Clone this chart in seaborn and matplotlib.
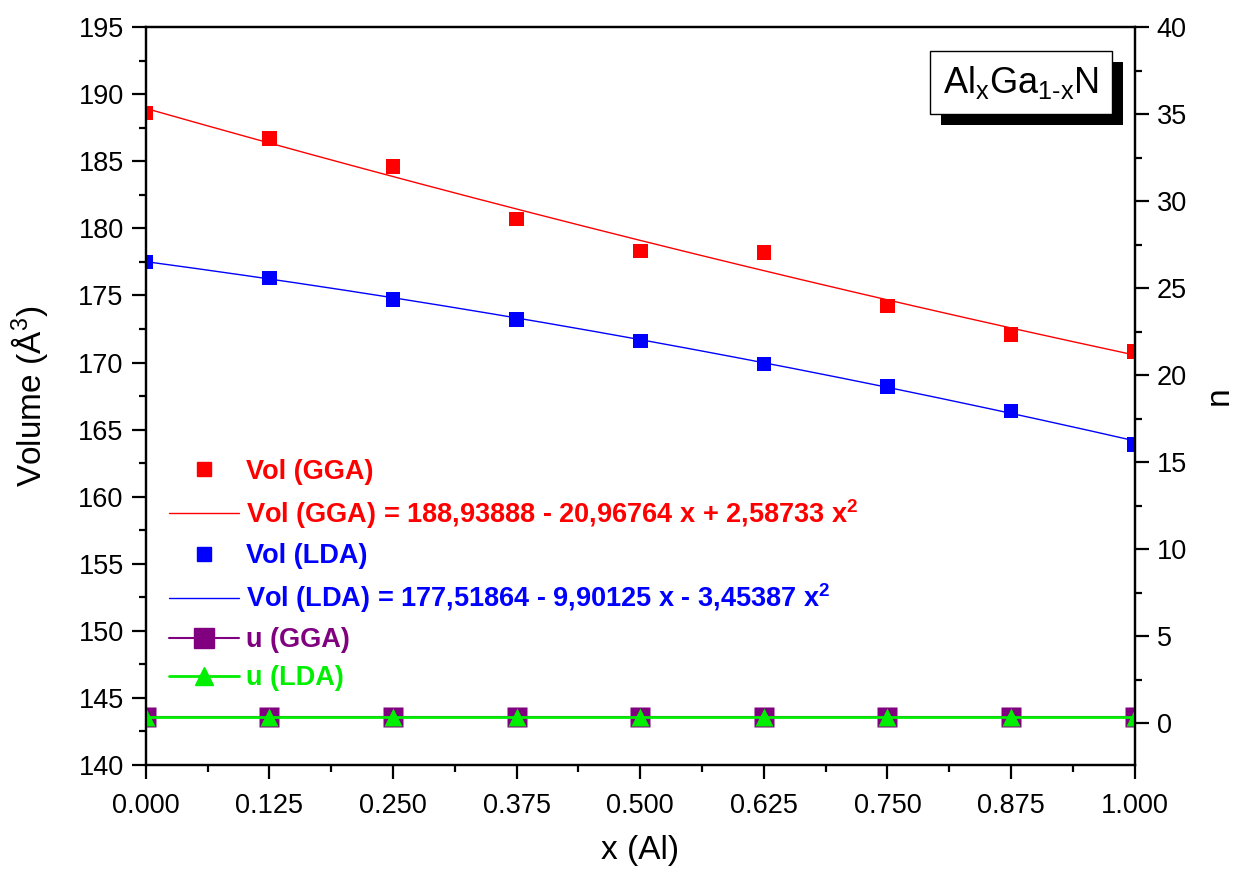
import numpy as np
import pandas as pd
import seaborn as sns
import matplotlib.pyplot as plt
from matplotlib.ticker import MultipleLocator
from matplotlib.lines import Line2D
import matplotlib.patheffects as pe

# datos
x_al = [0.0, 0.125, 0.25, 0.375, 0.5, 0.625, 0.75, 0.875, 1.0]
vol_gga = [188.6, 186.7, 184.6, 180.7, 178.3, 178.2, 174.2, 172.1, 170.8]
vol_lda = [177.5, 176.3, 174.7, 173.2, 171.6, 169.9, 168.2, 166.4, 163.9]
u_gga = [0.38, 0.38, 0.38, 0.38, 0.38, 0.38, 0.38, 0.38, 0.38]
u_lda = [0.38, 0.38, 0.38, 0.38, 0.38, 0.38, 0.38, 0.38, 0.38]

# coeficientes del ajuste (a0, a1, a2)
fit_gga = [188.93888, -20.96764, 2.58733]
fit_lda = [177.51864, -9.90125, -3.45387]

xticks = [0.0, 0.125, 0.25, 0.375, 0.5, 0.625, 0.75, 0.875, 1.0]
xlabels = ["0.000", "0.125", "0.250", "0.375", "0.500", "0.625", "0.750", "0.875", "1.000"]

sns.set_style("ticks")
plt.rcParams["font.family"] = ["Liberation Sans", "DejaVu Sans"]
plt.rcParams["mathtext.fontset"] = "custom"
plt.rcParams["mathtext.rm"] = "Liberation Sans"
plt.rcParams["mathtext.it"] = "Liberation Sans"
plt.rcParams["mathtext.bf"] = "Liberation Sans:bold"
plt.rcParams["text.color"] = "black"
plt.rcParams["axes.labelcolor"] = "black"
plt.rcParams["xtick.color"] = "black"
plt.rcParams["ytick.color"] = "black"

df = pd.DataFrame({"x": x_al, "gga": vol_gga, "lda": vol_lda, "ugga": u_gga, "ulda": u_lda})
xs = np.linspace(0, 1, 200)
fit = pd.DataFrame({"x": xs,
                    "gga": fit_gga[0] + fit_gga[1] * xs + fit_gga[2] * xs ** 2,
                    "lda": fit_lda[0] + fit_lda[1] * xs + fit_lda[2] * xs ** 2})

fig = plt.figure(figsize=(12.36, 8.74), dpi=100)
ax = fig.add_axes([0.118, 0.1247, 0.8, 0.8443])
ax2 = ax.twinx()

sns.lineplot(data=fit, x="x", y="gga", ax=ax, color="red", lw=1)
sns.lineplot(data=fit, x="x", y="lda", ax=ax, color="blue", lw=1)
sns.scatterplot(data=df, x="x", y="gga", ax=ax, color="red", marker="s", s=110, edgecolor="none", zorder=3)
sns.scatterplot(data=df, x="x", y="lda", ax=ax, color="blue", marker="s", s=110, edgecolor="none", zorder=3)

sns.lineplot(data=df, x="x", y="ugga", ax=ax2, color="purple", lw=1.5, marker="s", markersize=15, markeredgecolor="none")
sns.lineplot(data=df, x="x", y="ulda", ax=ax2, color="#00ee00", lw=2, marker="^", markersize=13, markeredgecolor="none")

ax.set_xlim(0, 1)
ax.set_ylim(140, 195)
ax2.set_ylim(-2.4, 40)
ax.set_xticks(xticks)
ax.set_xticklabels(xlabels)
ax.xaxis.set_minor_locator(MultipleLocator(0.0625))
ax.yaxis.set_major_locator(MultipleLocator(5))
ax.yaxis.set_minor_locator(MultipleLocator(2.5))
ax2.yaxis.set_major_locator(MultipleLocator(5))
ax2.yaxis.set_minor_locator(MultipleLocator(2.5))

for a in (ax, ax2):
    for s in a.spines.values():
        s.set_linewidth(1.6)
        s.set_color("black")
        s.set_visible(True)
    a.tick_params(which="major", length=10, width=1.6, labelsize=19.5, direction="out", pad=6)
    a.tick_params(which="minor", length=5, width=1.6, direction="out")
ax.tick_params(axis="x", which="major", pad=10)

ax.set_xlabel("x (Al)", fontsize=24, labelpad=12)
ax.set_ylabel("Volume (Å$^3$)", fontsize=24, labelpad=20)
ax2.set_ylabel("n", fontsize=24, labelpad=12)

handles = [
    Line2D([], [], ls="none", marker="s", color="red", markersize=10),
    Line2D([], [], color="red", lw=1),
    Line2D([], [], ls="none", marker="s", color="blue", markersize=10),
    Line2D([], [], color="blue", lw=1),
    Line2D([], [], color="purple", lw=1.5, marker="s", markersize=15),
    Line2D([], [], color="#00ee00", lw=2, marker="^", markersize=13),
]
labels = [
    "Vol (GGA)",
    r"Vol (GGA) = 188,93888 - 20,96764 x + 2,58733 x$^{\mathbf{2}}$",
    "Vol (LDA)",
    r"Vol (LDA) = 177,51864 - 9,90125 x - 3,45387 x$^{\mathbf{2}}$",
    "u (GGA)",
    "u (LDA)",
]
leg = ax2.legend(handles, labels, loc="lower left", bbox_to_anchor=(0.012, 0.085),
                 frameon=False, prop={"weight": "bold", "size": 19.5},
                 handlelength=2.6, handletextpad=0.25, labelspacing=0.45,
                 borderaxespad=0.0)
for t, c in zip(leg.get_texts(), ["red", "red", "blue", "blue", "purple", "#00ee00"]):
    t.set_color(c)

t = ax2.text(0.885, 0.925, r"Al$_{\mathrm{x}}$Ga$_{\text{1-x}}$N", transform=ax2.transAxes,
             fontsize=26, ha="center", va="center",
             bbox=dict(boxstyle="square,pad=0.35", fc="white", ec="black", lw=1))
t.get_bbox_patch().set_path_effects([pe.SimplePatchShadow(offset=(8, -8), shadow_rgbFace="black", alpha=1),
                                     pe.Normal()])

plt.savefig("out.png", dpi=100)
